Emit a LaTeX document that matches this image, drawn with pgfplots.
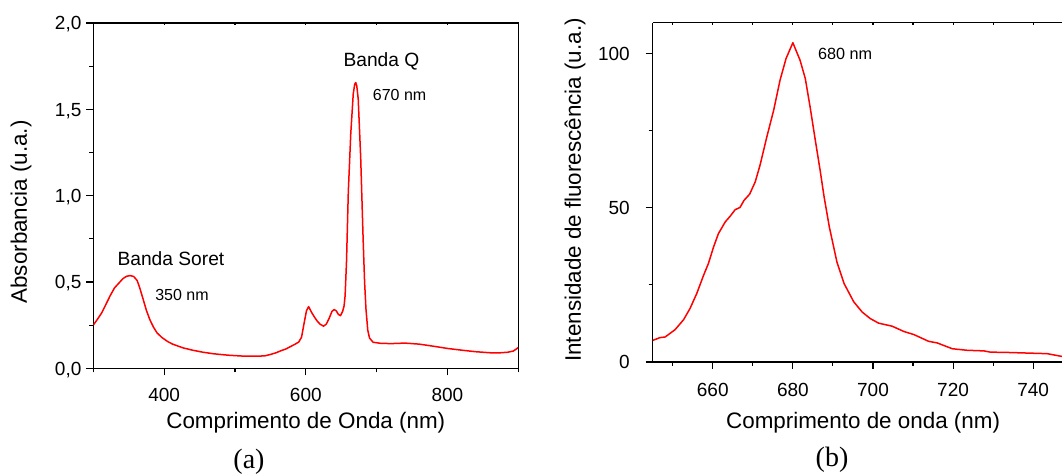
\documentclass[border=0pt]{standalone}
\usepackage{pgfplots}
\pgfplotsset{compat=1.18}
\usepackage{fontspec}
\setmainfont{Liberation Sans}
\newfontfamily\seriffont{Liberation Serif}

% Absorption spectrum (a)
\pgfplotstableread{
x y
300 0.250
306 0.285
312 0.322
318 0.372
324 0.422
330 0.466
336 0.493
342 0.520
347 0.533
352 0.537
357 0.532
362 0.508
366 0.460
370 0.405
375 0.335
380 0.280
385 0.238
390 0.205
397 0.178
405 0.155
412 0.140
427 0.118
440 0.105
455 0.093
470 0.084
490 0.076
510 0.071
530 0.070
542 0.072
550 0.080
558 0.090
565 0.102
572 0.112
578 0.125
585 0.140
590 0.152
594 0.180
598 0.270
601 0.334
604 0.357
608 0.325
612 0.298
616 0.274
620 0.256
625 0.244
629 0.256
633 0.290
637 0.330
640 0.340
643 0.333
646 0.312
649 0.305
652 0.330
654 0.360
655.5 0.420
657.5 0.620
660 1.020
663.5 1.360
667 1.590
669 1.645
670.5 1.655
672 1.635
674 1.560
677.5 1.220
681 0.740
683 0.500
685 0.340
687.5 0.220
690 0.175
695 0.151
705 0.145
720 0.143
740 0.146
760 0.140
780 0.128
800 0.115
820 0.105
840 0.096
860 0.090
875 0.090
885 0.093
893 0.100
900 0.120
}\absdata

% Fluorescence emission spectrum (b)
\pgfplotstableread{
x y
645.0 7.0
646.8 7.9
648.1 8.1
650.6 10.5
652.7 13.7
654.3 17.3
656.0 22.2
657.7 28.1
658.9 31.9
660.2 37.3
661.4 41.6
663.1 45.4
664.3 47.2
665.6 49.4
666.8 50.1
667.8 52.4
669.2 54.4
670.6 58.4
671.8 63.8
673.5 73.0
675.2 81.6
676.8 91.4
678.3 98.4
680.0 103.5
681.8 97.8
683.1 91.9
684.3 82.7
685.6 71.9
686.8 62.2
687.8 53.5
689.1 43.8
691.0 32.4
692.8 25.4
695.2 19.5
697.3 16.2
699.3 14.1
701.4 12.6
704.8 11.6
707.7 9.9
710.2 8.9
713.9 6.7
716.0 6.2
719.8 4.3
723.5 3.8
727.7 3.6
729.3 3.2
733.5 3.1
738.5 2.9
743.5 2.7
747.2 1.8
}\fludata

\newcommand\labelfont{\fontsize{22.4bp}{26bp}\selectfont}

\pgfplotsset{
  spectrum/.style={
    scale only axis,
    anchor=south west,
    axis line style={line width=1.2bp},
    every tick/.style={line width=1.1bp, black},
    tick align=outside,
    major tick length=7bp,
    minor tick length=4bp,
    tick label style={font=\fontsize{19bp}{22bp}\selectfont, inner sep=0pt},
    /pgf/number format/assume math mode=true,
  },
  topticks/.style={
    scale only axis,
    anchor=south west,
    axis x line*=top,
    axis y line=none,
    axis line style={line width=1.2bp},
    every tick/.style={line width=1.1bp, black},
    tick align=inside,
    major tick length=2.5bp,
    xticklabels={},
  },
  curve/.style={red, line width=1.5bp, line join=round},
}

\begin{document}
\begin{tikzpicture}
% ---------- (a) absorbance ----------
\begin{axis}[spectrum,
  at={(93.3bp,106.7bp)}, width=425bp, height=345.3bp,
  xmin=300, xmax=900, ymin=0, ymax=2,
  xtick={400,600,800}, minor xtick={300,500,700,900},
  ytick={0,0.5,...,2}, minor ytick={0.25,0.75,1.25,1.75},
  xtick pos=bottom, ytick pos=left,
  yticklabel style={/pgf/number format/use comma, /pgf/number format/fixed,
    /pgf/number format/fixed zerofill, /pgf/number format/precision=1},
  xticklabel style={anchor=north, yshift=-12.7bp},
  yticklabel style={anchor=base east, xshift=-4.7bp, yshift=-6.8bp},
  xlabel={Comprimento de Onda (nm)},
  ylabel={Absorbancia (u.a.)},
  every axis x label/.style={at={(axis description cs:0.5,0)}, anchor=base,
    yshift=-59.7bp, font=\labelfont, inner sep=0pt},
  every axis y label/.style={at={(axis description cs:-0.170,0.4527)}, rotate=90,
    anchor=center, font=\labelfont, inner sep=0pt},
]
\addplot[curve] table[x=x, y=y] {\absdata};
\node[anchor=base west, inner sep=0pt, font=\fontsize{19.2bp}{22bp}\selectfont] at (axis cs:334,0.596) {Banda Soret};
\node[anchor=base west, inner sep=0pt, font=\fontsize{16bp}{19bp}\selectfont] at (axis cs:387.3,0.394) {350 nm};
\node[anchor=base west, inner sep=0pt, font=\fontsize{19.2bp}{22bp}\selectfont] at (axis cs:653,1.746) {Banda Q};
\node[anchor=base west, inner sep=0pt, font=\fontsize{16bp}{19bp}\selectfont] at (axis cs:694.5,1.553) {670 nm};
\end{axis}
\begin{axis}[topticks,
  at={(93.3bp,106.7bp)}, width=425bp, height=345.3bp,
  xmin=300, xmax=900, ymin=0, ymax=2,
  xtick={300,400,...,900},
]
\end{axis}

% ---------- (b) fluorescence ----------
\begin{axis}[spectrum,
  at={(652.7bp,113bp)}, width=409.3bp, height=339.3bp,
  xmin=645, xmax=747.2, ymin=0, ymax=110,
  axis x line*=bottom, axis y line*=left,
  xtick={660,680,...,740}, minor xtick={650,670,...,730},
  ytick={0,50,100}, minor ytick={25,75},
  xticklabel style={anchor=north, yshift=-14bp},
  yticklabel style={anchor=base east, xshift=-15.7bp, yshift=-6.8bp},
  xlabel={Comprimento de onda (nm)},
  ylabel={Intensidade de fluorescência (u.a.)},
  every axis x label/.style={at={(axis description cs:0.514,0)}, anchor=base,
    yshift=-66.5bp, font=\labelfont, inner sep=0pt},
  every axis y label/.style={at={(axis description cs:-0.190,0.507)}, rotate=90,
    anchor=center, font=\labelfont, inner sep=0pt},
]
\addplot[curve] table[x=x, y=y] {\fludata};
\node[anchor=base west, inner sep=0pt, font=\fontsize{16.2bp}{19bp}\selectfont] at (axis cs:686.25,98.05) {680 nm};
\end{axis}
\begin{axis}[topticks,
  at={(652.7bp,113bp)}, width=409.3bp, height=339.3bp,
  xmin=645, xmax=747.2, ymin=0, ymax=110,
  xtick={650,660,...,740},
]
\end{axis}

% panel captions
\node[font=\seriffont\fontsize{28bp}{32bp}\selectfont, inner sep=0pt] at (249bp,13bp) {(a)};
\node[font=\seriffont\fontsize{28bp}{32bp}\selectfont, inner sep=0pt] at (832bp,15bp) {(b)};

\pgfresetboundingbox
\useasboundingbox (0,0) rectangle (1062bp,475bp);
\end{tikzpicture}
\end{document}
